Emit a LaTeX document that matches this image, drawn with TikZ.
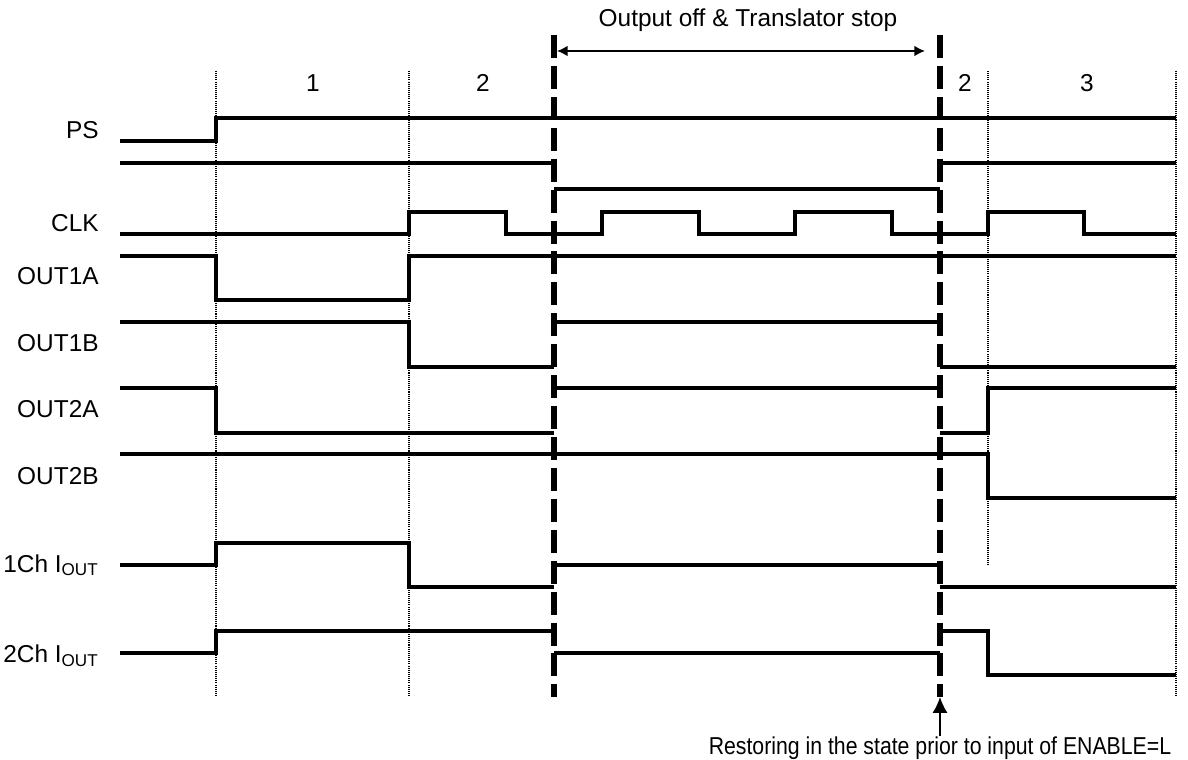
\documentclass[tikz,border=0pt]{standalone}
\usepackage{fontspec}
\setmainfont{Liberation Sans}
\newfontfamily\condfont[FakeStretch=0.87]{Liberation Sans}
\usetikzlibrary{arrows.meta}

\begin{document}
\begin{tikzpicture}[
    x = 0.02cm, y = -0.02cm,
    every node/.append style = {font=\fontsize{13.9}{16}\selectfont, inner sep=0pt},
    sig lbl/.style = {anchor=base east},
    phase lbl/.style = {anchor=center},
    wave/.style = {line width=1.75pt, line join=miter},
    edge mark/.style = {line width=0.8pt, dash pattern=on 0.6pt off 0.6pt},
    stop mark/.style = {line width=3pt, dash pattern=on 13.1pt off 4.5pt},
    span arrow/.style = {line width=0.9pt, {Latex[length=6pt,width=6pt]}-{Latex[length=6pt,width=6pt]}},
    note arrow/.style = {line width=0.9pt, -{Latex[length=9pt,width=8.5pt]}}
]
\useasboundingbox (0,0) rectangle (1188,760);

% signal names
\foreach \n/\y/\t in {ps/139/PS, clk/232/CLK, oa/285/OUT1A, ob/352/OUT1B,
                      pa/418/OUT2A, pb/485/OUT2B,
                      ia/572/{1Ch I\textsubscript{OUT}}, ib/663/{2Ch I\textsubscript{OUT}}}{
    \node[sig lbl] (lbl\n) at (99,\y) {\t};
}

% phase numbers
\foreach \n/\x/\t in {1/313/1, 2/483/2, 3/965/2, 4/1087/3}{
    \node[phase lbl] (ph\n) at (\x,83) {\t};
}

% clock edges
\foreach \x/\b in {216/697, 409/697, 988/565, 1176/697}{
    \draw[edge mark] (\x,71) -- (\x,\b);
}

% waveforms
\draw[wave] (120,141) -| (216,118) -- (1176,118);
\draw[wave] (120,163) -- (554,163) (554,189) -- (940,189) (940,163) -- (1176,163);
\draw[wave] (120,234) -| (409,212) -| (506,234) -| (602,212) -| (699,234)
    -| (795,212) -| (892,234) -| (988,212) -| (1084,234) -- (1176,234);
\draw[wave] (120,256) -| (216,300) -| (409,256) -- (1176,256);
\draw[wave] (120,322) -| (409,367) -- (554,367) (554,322) -- (940,322) (940,367) -- (1176,367);
\draw[wave] (120,388) -| (216,433) -- (554,433) (554,388) -- (940,388) (940,433) -| (988,388) -- (1176,388);
\draw[wave] (120,454) -| (988,498) -- (1176,498);
\draw[wave] (120,565) -| (216,543) -| (409,587) -- (554,587) (554,565) -- (940,565) (940,587) -- (1176,587);
\draw[wave] (120,653) -| (216,631) -- (554,631) (554,653) -- (940,653) (940,631) -| (988,675) -- (1176,675);

% enable stop window
\coordinate (offTop) at (554,35);
\coordinate (offBot) at (554,697);
\coordinate (onTop) at (940,35);
\coordinate (onBot) at (940,697);
\draw[stop mark] (offTop) -- (offBot);
\draw[stop mark] (onTop) -- (onBot);

\coordinate (spanL) at (557,51);
\coordinate (spanR) at (925,51);
\draw[span arrow] (spanL) -- (spanR);
\node (stopTxt) at (748,20) {Output off \& Translator stop};

\node[anchor=north] (note) at (940,736) {\condfont Restoring in the state prior to input of ENABLE=L};
\draw[note arrow] (note.north) -- (onBot);

\end{tikzpicture}
\end{document}
